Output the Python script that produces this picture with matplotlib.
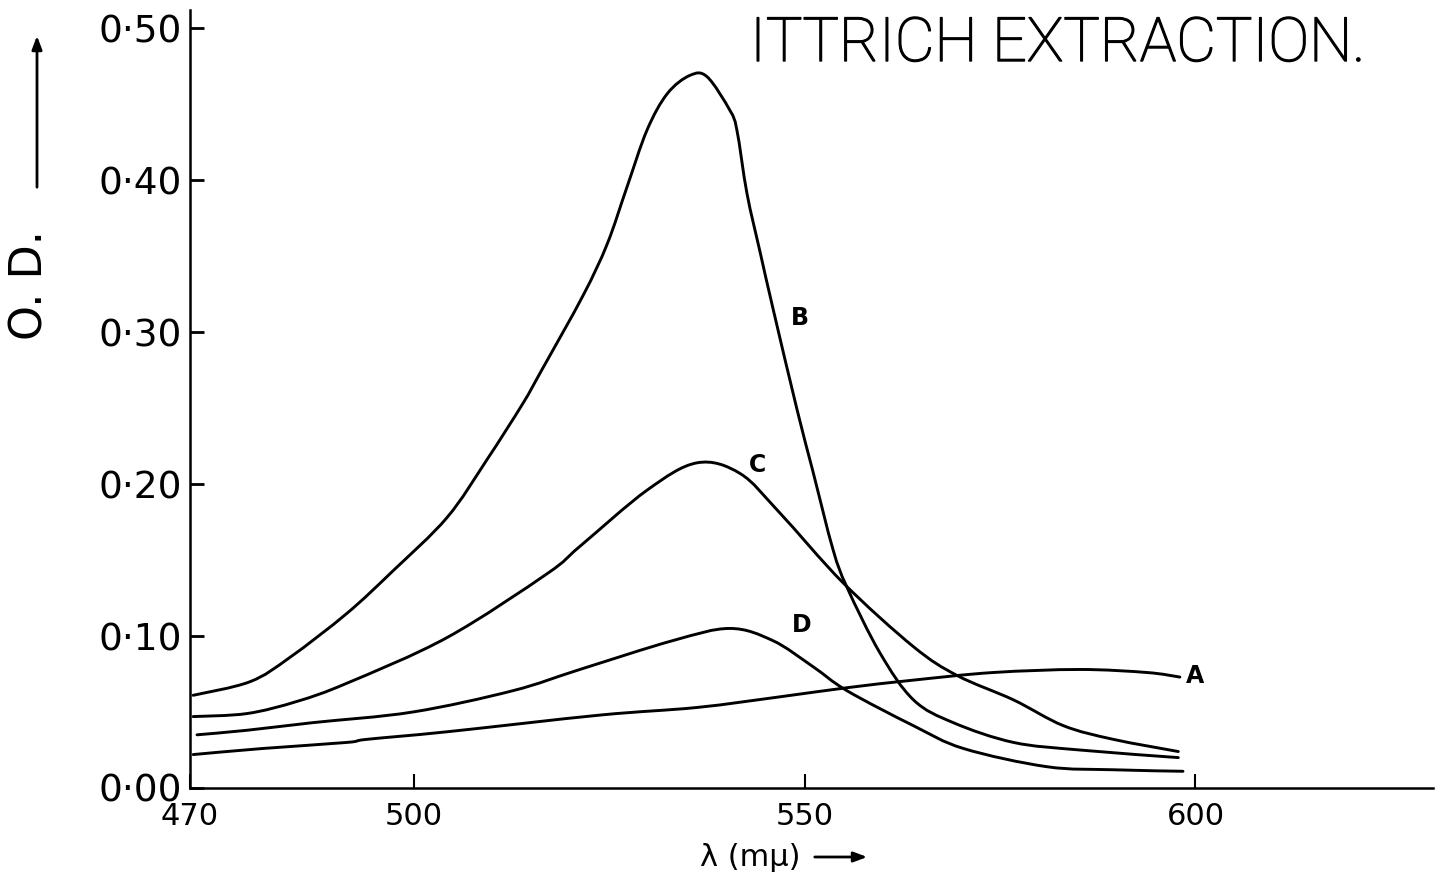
import matplotlib
matplotlib.use("Agg")
import matplotlib.pyplot as plt
import matplotlib.patheffects as pe
import numpy as np
from matplotlib.patches import FancyArrowPatch, PathPatch
from matplotlib.path import Path

# values (wavelength in mμ, optical density)
B_X = [471.7, 479.0, 484.1, 491.4, 497.3, 504.2, 509.3, 513.9, 516.1, 521.6,
       524.7, 527.2, 529.8, 532.4, 535.3, 537.5, 540.4, 541.3, 542.6, 544.3,
       545.9, 549.0, 551.0, 553.6, 555.4, 559.6, 563.9, 569.0, 576.7, 585.2,
       597.8]
B_Y = [0.061, 0.070, 0.086, 0.115, 0.143, 0.178, 0.216, 0.253, 0.273, 0.324,
       0.358, 0.395, 0.433, 0.457, 0.469, 0.468, 0.446, 0.433, 0.391, 0.352,
       0.316, 0.249, 0.209, 0.157, 0.132, 0.089, 0.058, 0.043, 0.030, 0.025,
       0.020]

C_X = [471.7, 478.6, 485.0, 491.4, 504.2, 517.0, 521.2, 529.8, 536.2, 541.7,
       546.8, 554.9, 563.9, 569.5, 576.7, 583.1, 589.5, 597.8]
C_Y = [0.047, 0.049, 0.057, 0.069, 0.099, 0.141, 0.159, 0.196, 0.214, 0.207,
       0.181, 0.135, 0.093, 0.074, 0.058, 0.041, 0.032, 0.024]

D_X = [472.2, 478.6, 487.0, 499.8, 512.6, 521.2, 533.1, 540.4, 545.9, 551.0,
       555.4, 563.9, 570.3, 581.0, 589.5, 598.4]
D_Y = [0.035, 0.038, 0.043, 0.050, 0.064, 0.078, 0.097, 0.105, 0.097, 0.080,
       0.064, 0.041, 0.026, 0.014, 0.012, 0.011]

A_X = [471.7, 480.6, 491.4, 493.9, 504.2, 523.8, 536.2, 546.8, 555.4, 563.9,
       574.1, 585.2, 593.8, 598.0]
A_Y = [0.022, 0.026, 0.030, 0.032, 0.037, 0.048, 0.053, 0.060, 0.066, 0.071,
       0.076, 0.078, 0.076, 0.073]

CURVAS = [("A", A_X, A_Y), ("B", B_X, B_Y), ("C", C_X, C_Y), ("D", D_X, D_Y)]

# where each curve letter sits
ROTULOS = {"A": (600.0, 0.074), "B": (549.4, 0.309),
           "C": (544.0, 0.2125), "D": (549.6, 0.107)}

XMIN, XMAX = 471.3, 630.4
YMIN, YMAX = 0.0, 0.512
Y_TICKS = [0.0, 0.1, 0.2, 0.3, 0.4, 0.5]
Y_LABELS = ["0·00", "0·10", "0·20", "0·30", "0·40", "0·50"]
X_TICKS = [XMIN, 500, 550, 600]
X_LABELS = ["470", "500", "550", "600"]

TINTA = "black"


def traco_suave(xs, ys):
    """Bezier path through every read point (Catmull-Rom tangents),
    so the pen-drawn curves don't come out as polygons."""
    p = np.column_stack([xs, ys])
    ext = np.vstack([p[0], p, p[-1]])
    verts, codes = [p[0]], [Path.MOVETO]
    for i in range(len(p) - 1):
        p0, p1, p2, p3 = ext[i], ext[i + 1], ext[i + 2], ext[i + 3]
        verts += [p1 + (p2 - p0) / 6, p2 - (p3 - p1) / 6, p2]
        codes += [Path.CURVE4] * 3
    return Path(verts, codes)


fig = plt.figure(figsize=(14.41, 8.85), dpi=100)
ax = fig.add_axes([190 / 1441, 1 - 788 / 885, (1433 - 190) / 1441, (788 - 10) / 885])

for nome, xs, ys in CURVAS:
    ax.add_patch(PathPatch(traco_suave(xs, ys), facecolor="none",
                           edgecolor=TINTA, linewidth=2.1,
                           joinstyle="round", capstyle="round"))

for nome, (x, y) in ROTULOS.items():
    ax.text(x, y, nome, fontsize=17, fontweight="bold", ha="center",
            va="center", color=TINTA)

ax.set_xlim(XMIN, XMAX)
ax.set_ylim(YMIN, YMAX)
for lado in ("top", "right"):
    ax.spines[lado].set_visible(False)
for lado in ("left", "bottom"):
    ax.spines[lado].set_linewidth(1.8)

ax.set_yticks(Y_TICKS)
ax.set_yticklabels(Y_LABELS, fontsize=27)
ax.set_xticks(X_TICKS)
ax.set_xticklabels(X_LABELS, fontsize=22)
ax.tick_params(axis="y", direction="in", length=10, width=2, pad=6)
ax.tick_params(axis="x", direction="in", length=10, width=1.5, pad=10)

# title, top right: light face with a thin stroke, like the stencil lettering
fig.text(750 / 1441, 1 - 44 / 885, "ITTRICH EXTRACTION.", fontsize=44,
         family="Roboto", fontweight="light", ha="left", va="center",
         path_effects=[pe.withStroke(linewidth=1.0, foreground=TINTA)])

# y axis caption with its arrow
fig.text(30 / 1441, 1 - 285 / 885, "O. D.", fontsize=32, rotation=90,
         ha="center", va="center")
fig.add_artist(FancyArrowPatch(
    (37 / 1441, 1 - 190 / 885), (37 / 1441, 1 - 33 / 885),
    transform=fig.transFigure, arrowstyle="-|>,head_length=8,head_width=3",
    color=TINTA, linewidth=2))

# x axis caption with its arrow
fig.text(750 / 1441, 1 - 857 / 885, "λ (mμ)", fontsize=22,
         ha="center", va="center")
fig.add_artist(FancyArrowPatch(
    (812 / 1441, 1 - 857 / 885), (870 / 1441, 1 - 857 / 885),
    transform=fig.transFigure, arrowstyle="-|>,head_length=8,head_width=3",
    color=TINTA, linewidth=2))

fig.savefig("out.png", dpi=100, facecolor="white")
